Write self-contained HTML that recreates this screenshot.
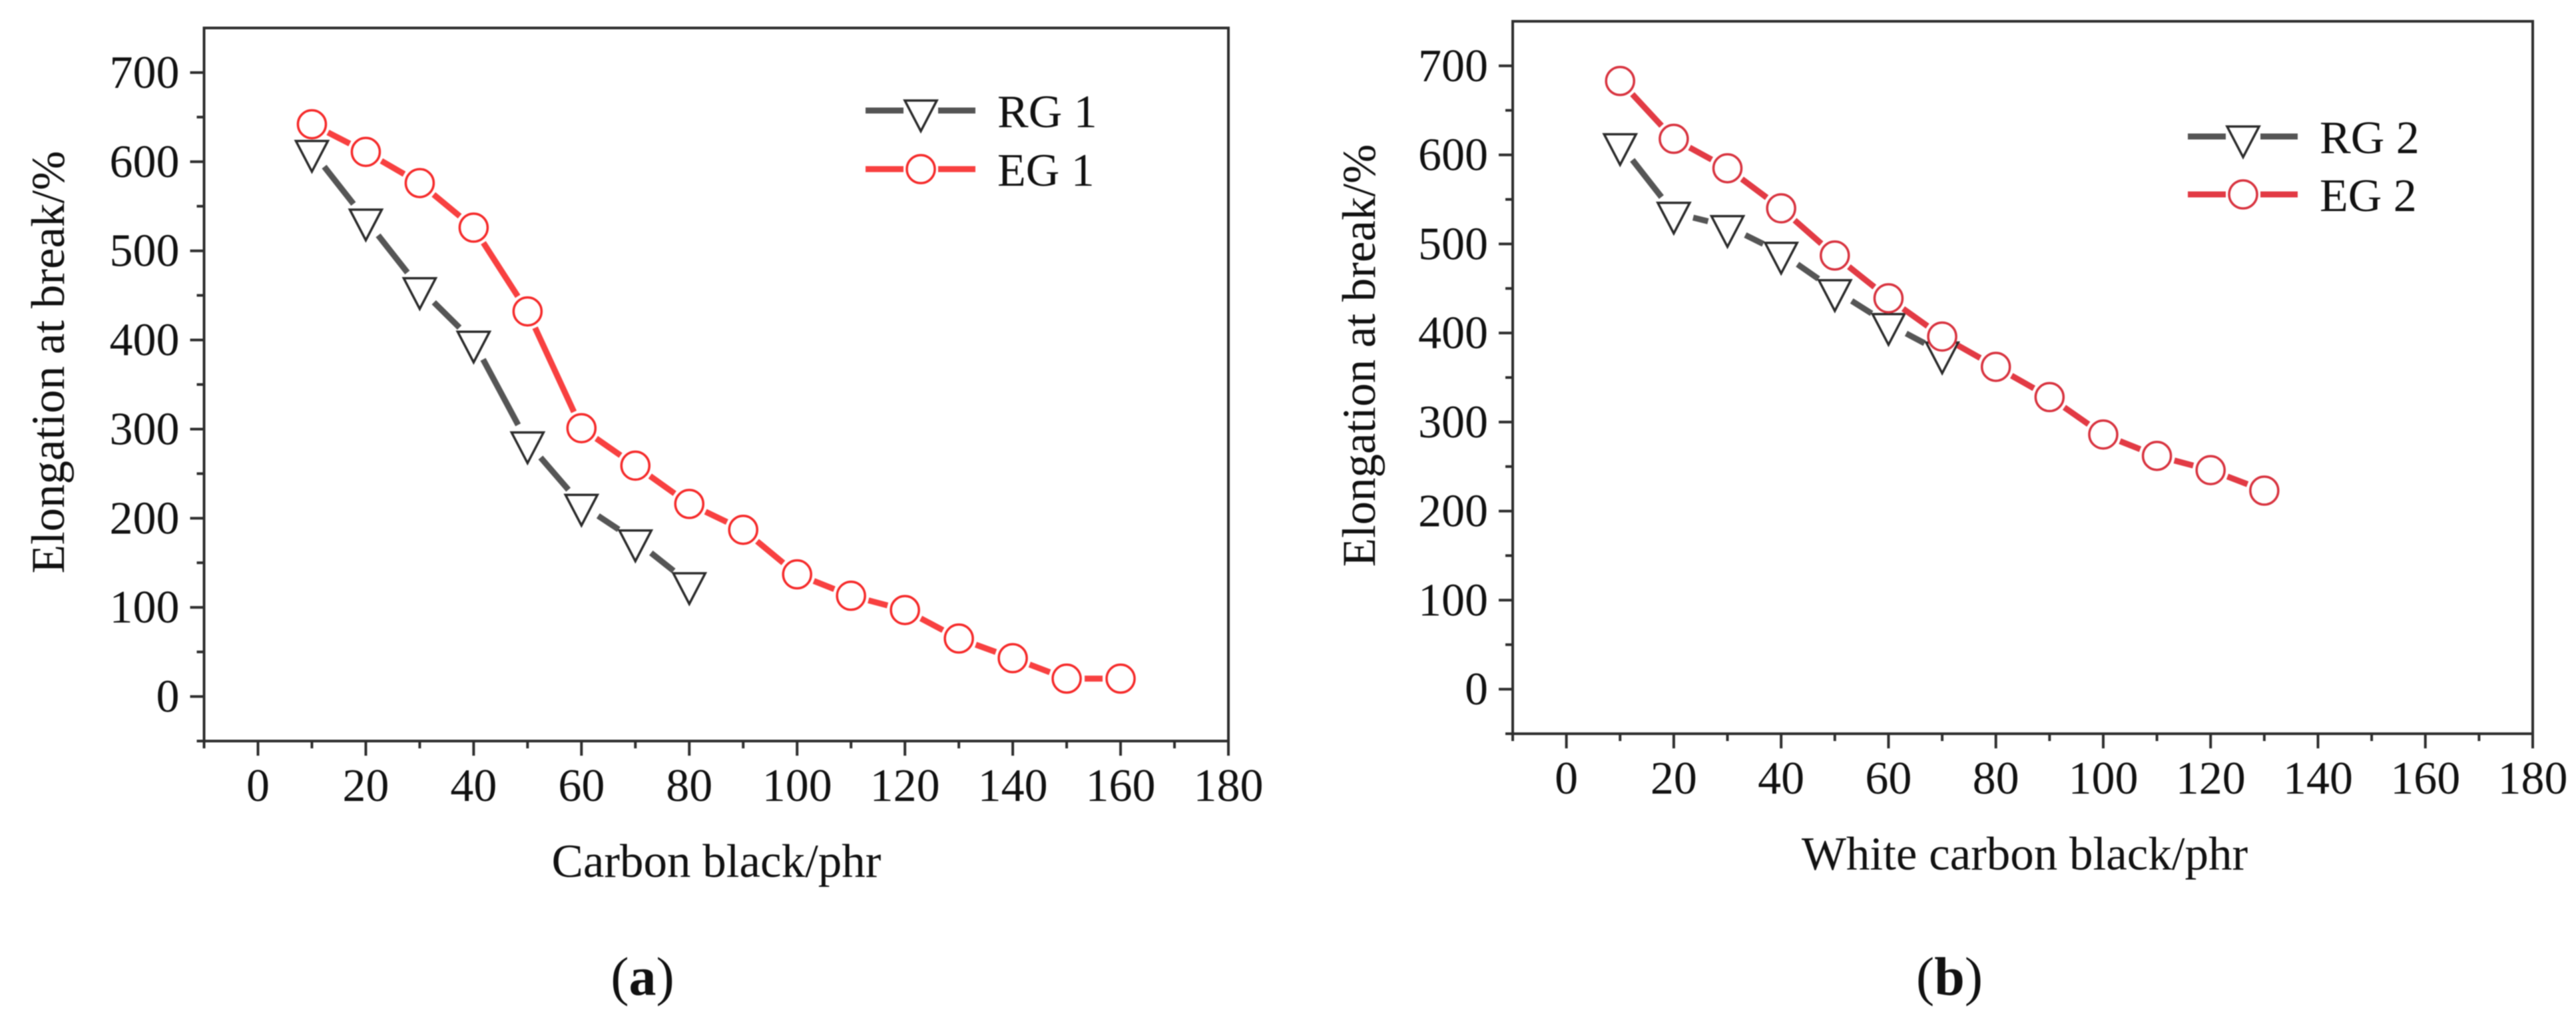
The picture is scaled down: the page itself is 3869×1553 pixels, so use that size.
<!DOCTYPE html>
<html lang="en">
<head>
<meta charset="utf-8">
<title>Elongation at break vs filler loading</title>
<style>
html,body{margin:0;padding:0;background:#fff;width:3869px;height:1553px;overflow:hidden}
svg{display:block;filter:blur(0.8px)}
text{font-family:"Liberation Serif","Times New Roman",serif;fill:#111}
</style>
</head>
<body>
<svg id="figure" xmlns="http://www.w3.org/2000/svg" width="3869" height="1553" viewBox="0 0 3869 1553"></svg>
<script>
// Chart data
const xTickLabels = [0, 20, 40, 60, 80, 100, 120, 140, 160, 180];
const yTickLabels = [0, 100, 200, 300, 400, 500, 600, 700];
const carbonLoading = [10, 20, 30, 40, 50, 60, 70, 80, 90, 100, 110, 120, 130, 140, 150, 160];
const rg1Values = [612, 535, 458, 398, 285, 215, 175, 127];
const eg1Values = [642, 611, 576, 526, 432, 301, 259, 216, 187, 137, 113, 97, 65, 43, 20, 20];
const whiteLoading = [10, 20, 30, 40, 50, 60, 70, 80, 90, 100, 110, 120, 130];
const rg2Values = [612, 535, 520, 490, 448, 410, 378];
const eg2Values = [683, 618, 585, 540, 487, 439, 396, 362, 328, 286, 262, 246, 223];

const NS = 'http://www.w3.org/2000/svg';
const root = document.getElementById('figure');

function make(parent, tag, attrs, content) {
  const el = document.createElementNS(NS, tag);
  for (const k in attrs) el.setAttribute(k, attrs[k]);
  if (content !== undefined) el.textContent = content;
  parent.appendChild(el);
  return el;
}

function triangleMarker(parent, x, y, name) {
  const el = make(parent, 'polygon', {
    points: (x - 24) + ',' + (y - 15) + ' ' + (x + 24) + ',' + (y - 15) + ' ' + x + ',' + (y + 31),
    fill: '#fff', stroke: '#2b2b2b', 'stroke-width': 3.5
  });
  
  
}

function circleMarker(parent, x, y, color, name) {
  const el = make(parent, 'circle', {cx: x, cy: y, r: 21, fill: '#fff', stroke: color, 'stroke-width': 3.5});
  
  
}

function drawPanel(p) {
  const g = make(root, 'g', {});
  
  

  const xScale = v => p.x0 + (v - (-10)) * (p.x1 - p.x0) / 190;
  const yScale = v => p.yBottom - (v - (-50)) * (p.yBottom - p.yTop) / 800;

  // Plot frame
  const frame = make(g, 'rect', {x: p.x0, y: p.yTop, width: p.x1 - p.x0, height: p.yBottom - p.yTop, fill: 'none', stroke: '#2e2e2e', 'stroke-width': 4});
  
  

  // Y ticks
  for (let v = -50; v <= 750; v += 50) {
    const major = v % 100 === 0;
    if (v === 750) continue;
    const t = make(g, 'line', {x1: p.x0 - (major ? 21 : 11), x2: p.x0, y1: yScale(v), y2: yScale(v), stroke: '#2e2e2e', 'stroke-width': 4});
    
    
  }
  yTickLabels.forEach(v => {
    const t = make(g, 'text', {x: p.x0 - 37, y: yScale(v) + 23, 'text-anchor': 'end', 'font-size': 70}, String(v));
    
    
  });

  // X ticks
  for (let v = -10; v <= 180; v += 10) {
    const major = v % 20 === 0;
    const t = make(g, 'line', {x1: xScale(v), x2: xScale(v), y1: p.yBottom, y2: p.yBottom + (major ? 22 : 11), stroke: '#2e2e2e', 'stroke-width': 4});
    
    
  }
  xTickLabels.forEach(v => {
    const t = make(g, 'text', {x: xScale(v), y: p.yBottom + 90, 'text-anchor': 'middle', 'font-size': 70}, String(v));
    
    
  });

  // Axis titles
  const xTitle = make(g, 'text', {x: p.xTitleX, y: p.yBottom + 204, 'text-anchor': 'middle', 'font-size': 71}, p.xTitle);
  
  
  const yTitle = make(g, 'text', {transform: 'translate(' + p.yTitleX + ' ' + p.yTitleY + ') rotate(-90)', 'text-anchor': 'middle', 'font-size': 71}, 'Elongation at break/%');
  
  

  // Series
  function series(xs, ys, color, gap, kind, name) {
    const s = make(g, 'g', {});
    
    
    const pts = ys.map((v, i) => [xScale(xs[i]), yScale(v)]);
    for (let i = 0; i < pts.length - 1; i++) {
      const dx = pts[i + 1][0] - pts[i][0], dy = pts[i + 1][1] - pts[i][1];
      const len = Math.hypot(dx, dy);
      if (len <= gap * 2) continue;
      const ux = dx / len, uy = dy / len;
      const seg = make(s, 'line', {
        x1: pts[i][0] + ux * gap, y1: pts[i][1] + uy * gap,
        x2: pts[i + 1][0] - ux * gap, y2: pts[i + 1][1] - uy * gap,
        stroke: color, 'stroke-width': 9
      });
      
      
    }
    pts.forEach(pt => {
      if (kind === 'triangle') triangleMarker(s, pt[0], pt[1], name + '-point');
      else circleMarker(s, pt[0], pt[1], p.circleColor, name + '-point');
    });
  }
  series(p.xs, p.rg, '#555555', 30, 'triangle', p.rgName);
  series(p.xs, p.eg, p.redLine, 27, 'circle', p.egName);

  // Legend
  const legend = make(g, 'g', {});
  
  
  [[p.rgLabel, p.legendRgY, '#555555', 'triangle'], [p.egLabel, p.legendEgY, p.redLine, 'circle']].forEach(row => {
    const entry = make(legend, 'g', {});
    
    
    const mid = p.legendX + 83;
    const a = make(entry, 'line', {x1: p.legendX, x2: mid - 26, y1: row[1], y2: row[1], stroke: row[2], 'stroke-width': 9});
    
    
    const b = make(entry, 'line', {x1: mid + 26, x2: p.legendX + 165, y1: row[1], y2: row[1], stroke: row[2], 'stroke-width': 9});
    
    
    if (row[3] === 'triangle') triangleMarker(entry, mid, row[1], 'legend-marker');
    else circleMarker(entry, mid, row[1], p.circleColor, 'legend-marker');
    const t = make(entry, 'text', {x: p.legendX + 198, y: row[1] + 25, 'font-size': 70}, row[0]);
    
    
  });

  // Caption
  const cap = make(g, 'text', {x: p.captionX, y: 1494, 'text-anchor': 'middle', 'font-size': 82}, '');
  
  
  make(cap, 'tspan', {}, '(');
  make(cap, 'tspan', {'font-weight': 'bold'}, p.captionLetter);
  make(cap, 'tspan', {}, ')');
}

drawPanel({
  id: 'panel-a', x0: 306.5, x1: 1845, yTop: 42, yBottom: 1113,
  xs: carbonLoading, rg: rg1Values, eg: eg1Values,
  rgName: 'rg1-series', egName: 'eg1-series', rgLabel: 'RG 1', egLabel: 'EG 1',
  xTitle: 'Carbon black/phr', xTitleX: 1076,
  yTitleX: 96, yTitleY: 544,
  legendX: 1300, legendRgY: 166, legendEgY: 254,
  redLine: '#f84040', circleColor: '#f52a2a',
  captionX: 965, captionLetter: 'a'
});
drawPanel({
  id: 'panel-b', x0: 2272, x1: 3804, yTop: 32, yBottom: 1102,
  xs: whiteLoading, rg: rg2Values, eg: eg2Values,
  rgName: 'rg2-series', egName: 'eg2-series', rgLabel: 'RG 2', egLabel: 'EG 2',
  xTitle: 'White carbon black/phr', xTitleX: 3041,
  yTitleX: 2065, yTitleY: 534,
  legendX: 3286, legendRgY: 205, legendEgY: 292,
  redLine: '#e23a44', circleColor: '#d8333f',
  captionX: 2928, captionLetter: 'b'
});
</script>
</body>
</html>
